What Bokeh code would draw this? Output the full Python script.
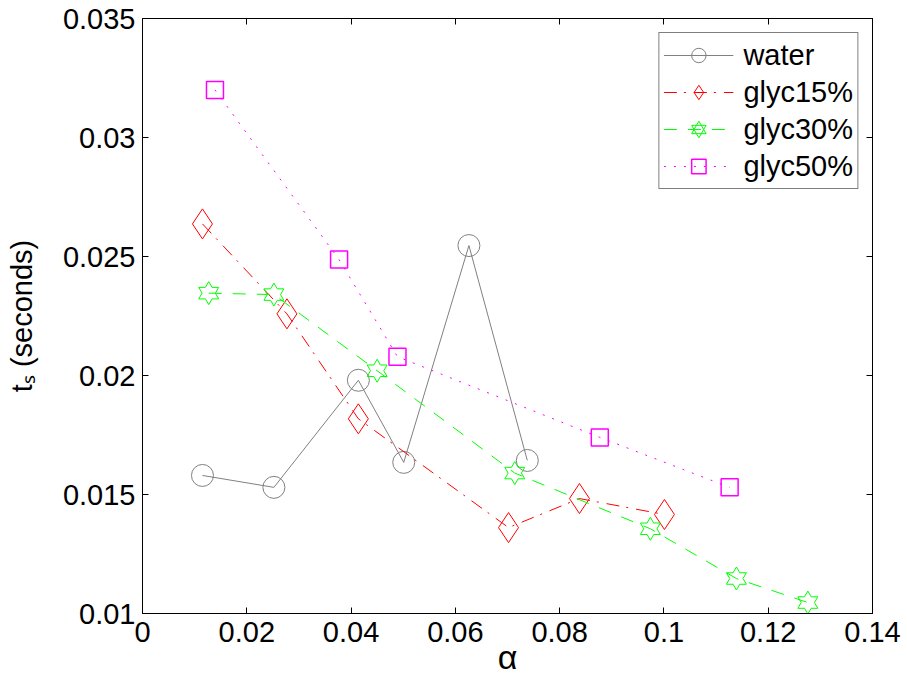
import numpy as np
from bokeh.plotting import figure
from bokeh.models import (Range1d, LinearAxis, FixedTicker, Legend, LegendItem,
                          CustomJSTickFormatter)
from bokeh.embed import file_html
from bokeh.resources import INLINE

# ---- data ----
water_x = [0.0115, 0.0252, 0.0414, 0.0501, 0.0626, 0.0738]
water_y = [0.0158, 0.0153, 0.0198, 0.01635, 0.02546, 0.01643]
glyc15_x = [0.0115, 0.0277, 0.0414, 0.0702, 0.0838, 0.1001]
glyc15_y = [0.02637, 0.02259, 0.01818, 0.01361, 0.01483, 0.01416]
glyc30_x = [0.0127, 0.0252, 0.0450, 0.0714, 0.0974, 0.1139, 0.1276]
glyc30_y = [0.02346, 0.0234, 0.0202, 0.0159, 0.01356, 0.01147, 0.01046]
glyc50_x = [0.0139, 0.0377, 0.0489, 0.0877, 0.1126]
glyc50_y = [0.0320, 0.02487, 0.02079, 0.0174, 0.0153]

x_ticks = [0, 0.02, 0.04, 0.06, 0.08, 0.1, 0.12, 0.14]
x_tick_labels = ["0", "0.02", "0.04", "0.06", "0.08", "0.1", "0.12", "0.14"]
y_ticks = [0.01, 0.015, 0.02, 0.025, 0.03, 0.035]
y_tick_labels = ["0.01", "0.015", "0.02", "0.025", "0.03", "0.035"]
series_names = ["water", "glyc15%", "glyc30%", "glyc50%"]
x_title = "α"
y_title = "tₛ (seconds)"

FONT = "Liberation Sans"
FS = "29px"
X0, X1 = 0.0, 0.14
Y0, Y1 = 0.01, 0.035
FW, FH = 730, 595

p = figure(width=907, height=686, x_range=Range1d(X0, X1), y_range=Range1d(Y0, Y1),
           output_backend="svg", toolbar_location=None,
           min_border_left=142, min_border_right=35, min_border_top=18, min_border_bottom=73,
           x_axis_location=None, y_axis_location=None)
p.xgrid.visible = False
p.ygrid.visible = False
p.outline_line_color = "black"
p.outline_line_width = 1
p.background_fill_color = "white"
p.border_fill_color = "white"

def style_axis(ax, labels=True, standoff=8):
    ax.axis_line_color = "black"
    ax.axis_line_width = 1
    ax.major_tick_line_color = "black"
    ax.major_tick_in = 6
    ax.major_tick_out = 0
    ax.minor_tick_line_color = None
    ax.major_label_text_font = FONT
    ax.major_label_text_color = "black"
    ax.major_label_standoff = standoff
    if labels:
        ax.major_label_text_font_size = FS
    else:
        ax.major_label_text_font_size = "1px"
        ax.major_label_standoff = 0
        ax.formatter = CustomJSTickFormatter(code="return ''")

xb = LinearAxis(ticker=FixedTicker(ticks=x_ticks))
xb.major_label_overrides = dict(zip(x_ticks, x_tick_labels))
style_axis(xb, True, 8)
xb.axis_label = x_title
xb.axis_label_text_font = FONT
xb.axis_label_text_font_size = "34px"
xb.axis_label_text_font_style = "normal"
xb.axis_label_text_color = "black"
xb.axis_label_standoff = -7
p.add_layout(xb, "below")

yl = LinearAxis(ticker=FixedTicker(ticks=y_ticks))
yl.major_label_overrides = dict(zip(y_ticks, y_tick_labels))
style_axis(yl, True, 7)
yl.axis_label = y_title
yl.axis_label_text_font = FONT
yl.axis_label_text_font_size = FS
yl.axis_label_text_font_style = "normal"
yl.axis_label_text_color = "black"
yl.axis_label_standoff = 22
p.add_layout(yl, "left")

xt = LinearAxis(ticker=FixedTicker(ticks=x_ticks))
style_axis(xt, False)
p.add_layout(xt, "above")

yr = LinearAxis(ticker=FixedTicker(ticks=y_ticks))
style_axis(yr, False)
p.add_layout(yr, "right")

# ---- series ----
GRAY, RED, GREEN, MAG = "#808080", "#ff0000", "#00ff00", "#ff00ff"

w_line = p.line(water_x, water_y, line_color=GRAY, line_width=1)
w_mk = p.scatter(water_x, water_y, marker="circle", size=22, fill_color=None,
                 line_color=GRAY, line_width=1)

g15_line = p.line(glyc15_x, glyc15_y, line_color=RED, line_width=1, line_dash="13 7 2 8")
g15_mk = p.scatter(glyc15_x, glyc15_y, marker="diamond", size=30, fill_color=None,
                   line_color=RED, line_width=1)

g30_line = p.line(glyc30_x, glyc30_y, line_color=GREEN, line_width=1, line_dash="13 11")
# hexagram outlines (six-pointed star), sized in pixels
R = 11.5
dxpp = (X1 - X0) / FW
dypp = (Y1 - Y0) / FH
k = np.arange(12)
angs = np.deg2rad(90 + 30 * k)
rads = np.where(k % 2 == 0, R, R / np.sqrt(3))
hx = [list(x + rads * np.cos(angs) * dxpp) for x in glyc30_x]
hy = [list(y + rads * np.sin(angs) * dypp) for y in glyc30_y]
p.patches(hx, hy, fill_color=None, line_color=GREEN, line_width=1)
# legend-only glyphs for the hexagram (no visible point in the plot)
g30_t1 = p.scatter([np.nan], [np.nan], marker="triangle", size=20, fill_color=None,
                   line_color=GREEN)
g30_t2 = p.scatter([np.nan], [np.nan], marker="inverted_triangle", size=20, fill_color=None,
                   line_color=GREEN)

g50_line = p.line(glyc50_x, glyc50_y, line_color=MAG, line_width=1, line_dash="2 8")
g50_mk = p.scatter(glyc50_x, glyc50_y, marker="square", size=17, fill_color=None,
                   line_color=MAG, line_width=1.5)

legend = Legend(items=[
    LegendItem(label=series_names[0], renderers=[w_line, w_mk]),
    LegendItem(label=series_names[1], renderers=[g15_line, g15_mk]),
    LegendItem(label=series_names[2], renderers=[g30_line, g30_t1, g30_t2]),
    LegendItem(label=series_names[3], renderers=[g50_line, g50_mk]),
], location="top_right")
legend.margin = 14
legend.padding = 4
legend.spacing = 1
legend.glyph_width = 70
legend.glyph_height = 36
legend.label_height = 36
legend.label_standoff = 10
legend.label_text_font = FONT
legend.label_text_font_size = FS
legend.label_text_color = "black"
legend.border_line_color = "black"
legend.border_line_width = 1
legend.background_fill_color = "white"
legend.background_fill_alpha = 1
p.add_layout(legend)

open("out.html", "w").write(file_html(p, INLINE))
